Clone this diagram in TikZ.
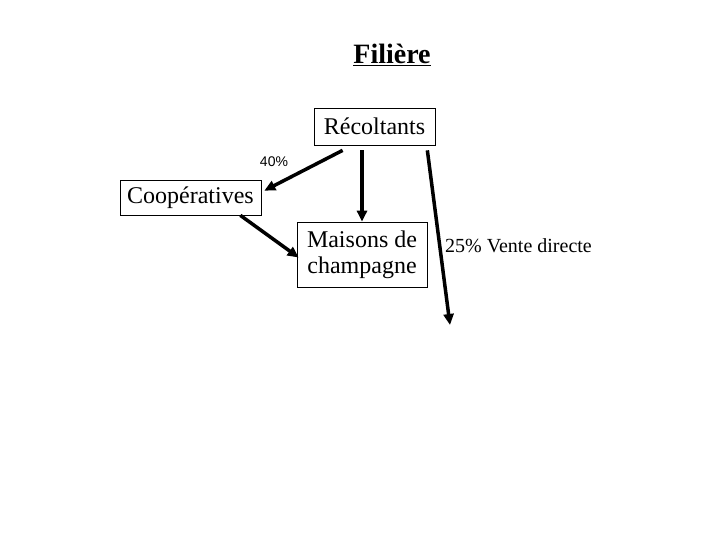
\documentclass[tikz,border=0pt]{standalone}
\usepackage{fontspec}
\setmainfont{Liberation Serif}
\newfontfamily\arialfont{Liberation Sans}
\usetikzlibrary{arrows.meta,positioning}

\begin{document}
\begin{tikzpicture}[
  x=1pt, y=-1pt,
  font=\fontsize{24}{26}\selectfont,
  actor/.style={draw, line width=0.7pt, inner sep=0pt},
  flow/.style={->, line width=3.5pt},
  >={Triangle[length=11pt,width=10pt]}]
  \useasboundingbox (0,0) rectangle (720,540);
  \node[font=\bfseries\fontsize{28}{32}\selectfont] (title) at (392,55) {\underline{Filière}};
  \node[actor, minimum width=121pt, minimum height=37pt] (rec) at (374.5,126.5) {Récoltants};
  \node[actor, minimum width=141pt, minimum height=35pt] (coop) at (190.5,197.5) {Coopératives};
  \node[actor, minimum width=130pt, minimum height=65pt, align=center] (mais) at (362,254.5) {Maisons de\\champagne};
  \node[font=\arialfont\fontsize{14}{16}\selectfont] (p40) at (274,162) {40\%};
  \node[anchor=west, font=\fontsize{20}{22}\selectfont, inner sep=0pt] (vd) at (445,246) {25\% Vente directe};
  \coordinate (vdend) at (450,325);
  % flux
  \draw[flow] ([xshift=29pt,yshift=-5pt]rec.south west) -- ([xshift=3pt,yshift=-11pt]coop.north east);
  \draw[flow] ([yshift=-5pt]rec.south -| mais.north) -- (mais.north);
  \draw[flow] ([xshift=-8pt,yshift=-5pt]rec.south east) -- (vdend);
  \draw[flow] ([xshift=-21pt]coop.south east) -- ([xshift=2pt,yshift=-3pt]mais.west);
\end{tikzpicture}
\end{document}
